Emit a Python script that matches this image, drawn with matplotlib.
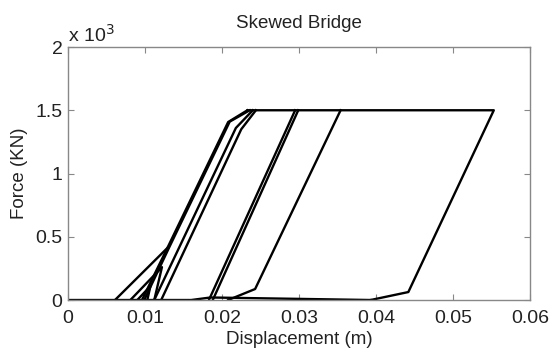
import matplotlib
matplotlib.use("Agg")
import matplotlib.pyplot as plt

plt.rcParams['font.family'] = ['Liberation Sans', 'DejaVu Sans']

# Branch data (displacement in m, force in kN)
base_d = [0.0, 0.0160, 0.0185, 0.0393]
base_f = [0, 0, 20, 0]

big_d = [0.0393, 0.0442, 0.0553, 0.0233]
big_f = [0, 63, 1500, 1500]

mid_d = [0.0208, 0.0243, 0.0354]
mid_f = [0, 87, 1500]

b20a_d = [0.0183, 0.0295]
b20a_f = [0, 1500]
b20b_d = [0.0188, 0.0299]
b20b_f = [0, 1500]

thick_d = [0.0096, 0.0129, 0.0208, 0.0233]
thick_f = [0, 411, 1407, 1500]
thick2_d = [0.0099, 0.0131, 0.0210, 0.0236]
thick2_f = [0, 411, 1410, 1500]

l2_d = [0.0112, 0.0218, 0.0240]
l2_f = [0, 1360, 1500]
l3_d = [0.0121, 0.0225, 0.0244]
l3_f = [0, 1350, 1500]

shallow_d = [0.0061, 0.0129]
shallow_f = [0, 411]

tri1_d = [0.0081, 0.0122, 0.0112]
tri1_f = [0, 260, 0]
tri2_d = [0.0090, 0.0107, 0.0103]
tri2_f = [0, 110, 0]

xticks = [0, 0.01, 0.02, 0.03, 0.04, 0.05, 0.06]
xtick_labels = ['0', '0.01', '0.02', '0.03', '0.04', '0.05', '0.06']
yticks = [0, 500, 1000, 1500, 2000]
ytick_labels = ['0', '0.5', '1', '1.5', '2']

fig = plt.figure(figsize=(5.58, 3.54), dpi=100)
ax = fig.add_axes([0.1219, 0.1525, 0.8279, 0.7147])

branches = [
    (base_d, base_f), (big_d, big_f), (mid_d, mid_f),
    (b20a_d, b20a_f), (b20b_d, b20b_f),
    (thick_d, thick_f), (thick2_d, thick2_f),
    (l2_d, l2_f), (l3_d, l3_f), (shallow_d, shallow_f),
    (tri1_d, tri1_f), (tri2_d, tri2_f),
]
for d, f in branches:
    ax.plot(d, f, color='black', lw=1.7, solid_joinstyle='round')

ax.set_xlim(0, 0.06)
ax.set_ylim(0, 2000)
ax.set_xticks(xticks)
ax.set_xticklabels(xtick_labels)
ax.set_yticks(yticks)
ax.set_yticklabels(ytick_labels)

tc = '#222222'
ax.tick_params(direction='in', length=4, width=0.8, color='#888888',
               top=True, right=True, labelsize=14, labelcolor=tc)
ax.tick_params(axis='x', pad=7)
ax.tick_params(axis='y', pad=4)
for s in ax.spines.values():
    s.set_color('#888888')
    s.set_linewidth(1.0)

ax.set_xlabel('Displacement (m)', fontsize=13.5, color=tc, labelpad=3)
ax.set_ylabel('Force (KN)', fontsize=13.5, color=tc, labelpad=5)
ax.set_title('Skewed Bridge', fontsize=13.5, color=tc, pad=14)
ax.text(0.0, 1.005, r'x 10$^3$', transform=ax.transAxes, fontsize=14,
        color=tc, ha='left', va='bottom')

fig.savefig('out.png', dpi=100)
